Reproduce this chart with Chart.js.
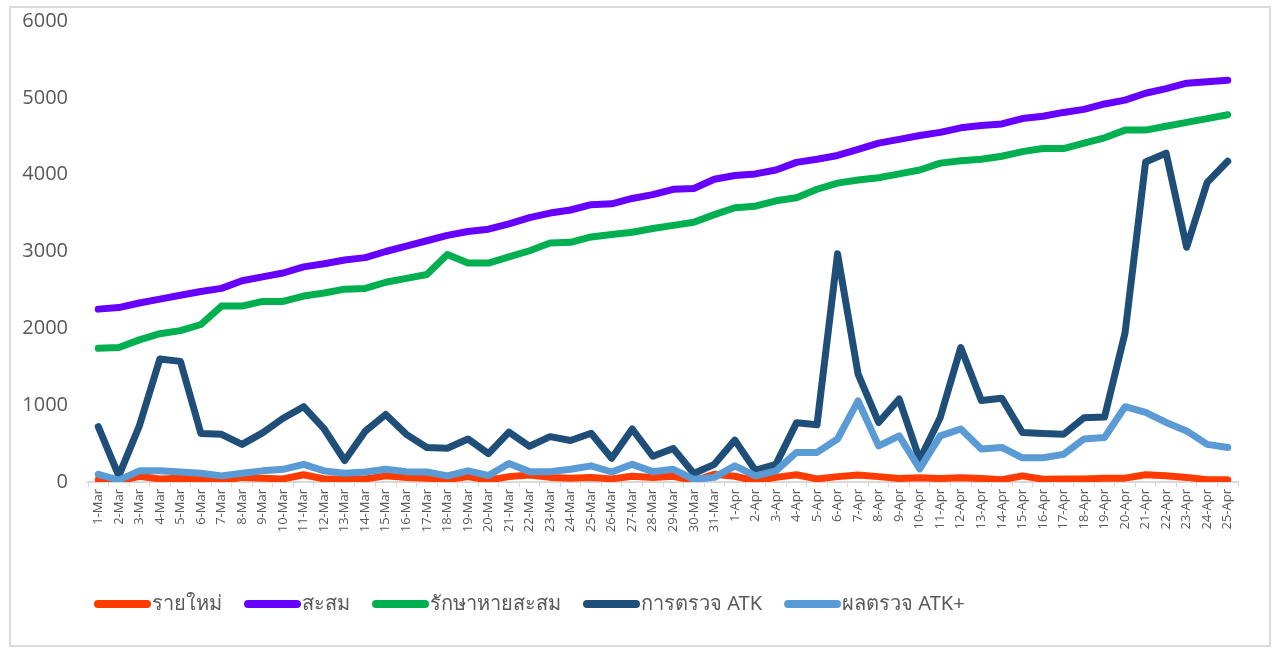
<!DOCTYPE html>
<html>
<head>
<meta charset="utf-8">
<script src="https://cdn.jsdelivr.net/npm/chart.js@4.4.1/dist/chart.umd.min.js"></script>
<style>
  body { margin: 0; background: #fff; }
  #frame { position: absolute; left: 9px; top: 6px; width: 1258px; height: 637px; border: 2px solid #d9d9d9; }
</style>
</head>
<body>
<div id="frame"><canvas id="chart" width="1258" height="637"></canvas></div>
<script>
var days = ["1-Mar","2-Mar","3-Mar","4-Mar","5-Mar","6-Mar","7-Mar","8-Mar","9-Mar","10-Mar",
    "11-Mar","12-Mar","13-Mar","14-Mar","15-Mar","16-Mar","17-Mar","18-Mar","19-Mar","20-Mar",
    "21-Mar","22-Mar","23-Mar","24-Mar","25-Mar","26-Mar","27-Mar","28-Mar","29-Mar","30-Mar","31-Mar",
    "1-Apr","2-Apr","3-Apr","4-Apr","5-Apr","6-Apr","7-Apr","8-Apr","9-Apr","10-Apr",
    "11-Apr","12-Apr","13-Apr","14-Apr","15-Apr","16-Apr","17-Apr","18-Apr","19-Apr","20-Apr",
    "21-Apr","22-Apr","23-Apr","24-Apr","25-Apr"];

var newCases = [30,10,75,40,50,40,20,60,50,40, 95,40,40,40,80,60,50,30,70,25,
    70,90,60,50,60,40,75,60,75,15,100,
    75,15,60,95,40,70,90,70,45,55, 45,55,45,30,80,35,40,40,50,50, 95,80,60,30,30];

var cumulative = [2250,2270,2330,2380,2430,2480,2520,2620,2670,2720, 2800,2840,2890,2920,3000,3070,3140,3210,3260,3290,
    3360,3440,3500,3540,3610,3620,3690,3740,3810,3820,3940,
    3990,4010,4060,4160,4200,4250,4330,4410,4460,4510, 4550,4610,4640,4660,4730,4760,4810,4850,4920,4970, 5060,5120,5190,5210,5230];

var recovered = [1740,1750,1850,1930,1970,2050,2290,2290,2350,2350, 2420,2460,2510,2520,2600,2650,2700,2960,2850,2850,
    2930,3010,3110,3120,3190,3220,3250,3300,3340,3380,3480,
    3570,3590,3660,3700,3810,3890,3930,3960,4010,4060, 4150,4180,4200,4240,4300,4340,4340,4410,4480,4580, 4580,4630,4680,4730,4780];

var atkTests = [720,80,730,1600,1570,630,620,490,640,830, 980,690,280,660,880,620,450,440,560,370,
    650,465,590,540,635,310,690,335,435,110,230,
    545,150,230,770,745,2970,1405,775,1080,290, 840,1750,1060,1090,645,630,620,835,845,1940, 4165,4280,3055,3900,4175];

var atkPositive = [100,25,145,145,130,115,80,115,145,165, 230,145,115,130,165,135,130,80,145,85,
    240,135,135,165,210,130,230,135,165,35,60,
    210,80,145,385,385,560,1055,470,600,170, 600,690,430,450,315,315,360,560,580,980, 905,775,665,490,450];

var seriesNames = ["รายใหม่", "สะสม", "รักษาหายสะสม", "การตรวจ ATK", "ผลตรวจ ATK+"];
var seriesColors = ["#ff3b00", "#6600ff", "#00b050", "#1f4e79", "#5b9bd5"];
var yTicks = [0, 1000, 2000, 3000, 4000, 5000, 6000];

var legendFontSize = 20;
var swatchWidth = 48;

// legend swatch: a thick rounded line that runs right up to the label text
function makeSwatch(color) {
    var c = document.createElement("canvas");
    c.width = swatchWidth + legendFontSize;
    c.height = 12;
    var g = c.getContext("2d");
    g.strokeStyle = color;
    g.lineWidth = 8;
    g.lineCap = "round";
    g.beginPath();
    g.moveTo(legendFontSize / 2 + 4, 6);
    g.lineTo(c.width - 5, 6);
    g.stroke();
    return c;
}

function lineSet(i, values) {
    return {
        label: seriesNames[i],
        data: values,
        borderColor: seriesColors[i],
        backgroundColor: seriesColors[i],
        borderWidth: 7,
        borderCapStyle: "round",
        borderJoinStyle: "round",
        pointRadius: 0,
        pointHoverRadius: 0,
        pointStyle: makeSwatch(seriesColors[i]),
        tension: 0,
        order: 5 - i
    };
}

// move the legend row right so it starts under the plot, like the original
var legendShift = {
    id: "legendShift",
    afterLayout: function(chart) {
        chart.legend.left += 61;
    }
};

var textGrey = "#595959";
var chart = new Chart(document.getElementById("chart"), {
    type: "line",
    data: {
        labels: days,
        datasets: [lineSet(0, newCases), lineSet(1, cumulative), lineSet(2, recovered), lineSet(3, atkTests), lineSet(4, atkPositive)]
    },
    plugins: [legendShift],
    options: {
        responsive: false,
        animation: false,
        layout: { padding: { left: 0, right: 31, top: 13, bottom: 21 } },
        plugins: {
            tooltip: { enabled: false },
            legend: {
                position: "bottom",
                align: "start",
                labels: {
                    usePointStyle: true,
                    pointStyleWidth: swatchWidth,
                    padding: 22,
                    color: textGrey,
                    font: { family: "'Noto Sans', 'Open Sans', sans-serif", size: legendFontSize },
                    sort: function(a, b) { return a.datasetIndex - b.datasetIndex; }
                }
            }
        },
        scales: {
            x: {
                offset: true,
                grid: { display: true, drawOnChartArea: false, drawTicks: true, tickLength: 5, color: "#d9d9d9", offset: true },
                border: { display: true, color: "#d9d9d9", width: 2 },
                ticks: {
                    autoSkip: false,
                    maxRotation: 90,
                    minRotation: 90,
                    padding: 2,
                    color: textGrey,
                    font: { family: "'Open Sans', sans-serif", size: 13 }
                },
                afterFit: function(scale) { scale.height = 90; }
            },
            y: {
                min: 0,
                max: 6000,
                afterBuildTicks: function(scale) {
                    scale.ticks = yTicks.map(function(v) { return { value: v }; });
                },
                grid: { display: false, drawTicks: false },
                border: { display: false },
                ticks: {
                    padding: 20,
                    color: textGrey,
                    font: { family: "'Open Sans', sans-serif", size: 20 },
                    callback: function(value) { return String(value); }
                },
                afterFit: function(scale) {
                    scale.width = 77;
                    scale.paddingTop = 0;
                    scale.paddingBottom = 0;
                }
            }
        }
    }
});
</script>
</body>
</html>
